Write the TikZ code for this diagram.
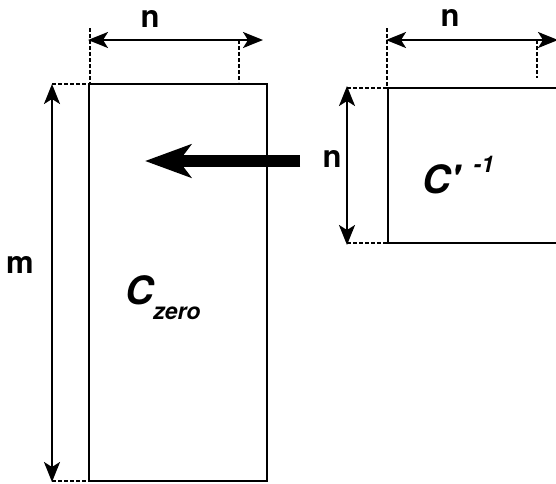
\documentclass[tikz,border=0pt]{standalone}
\usepackage{fontspec}
\setmainfont{TeX Gyre Heros}
\usetikzlibrary{arrows.meta}
\tikzset{
  box/.style={draw, line width=2.3pt},
  dimline/.style={line width=2.1pt, {Stealth[length=20pt,width=16pt,inset=5pt]}-{Stealth[length=20pt,width=16pt,inset=5pt]}},
  guide/.style={line width=1.7pt, dash pattern=on 3.5pt off 2.5pt},
  lbl/.style={font=\fontsize{31}{31}\selectfont\bfseries, inner sep=0pt, anchor=base},
  bigarrow/.style={line width=12.5pt, -{Stealth[length=46pt,width=33pt,inset=12pt]}}
}
\begin{document}
\begin{tikzpicture}[x=1pt,y=-1pt]
\clip (0,0) rectangle (556,483);
% rectangles
\draw[box] (89,84) rectangle (267,481);
\draw[box] (388,88) rectangle (600,243);
% named points
\coordinate (a1) at (88,40);  \coordinate (a2) at (263,40);
\coordinate (b1) at (52,84);  \coordinate (b2) at (52,482);
\coordinate (c1) at (386,40); \coordinate (c2) at (558,40);
\coordinate (d1) at (347,86); \coordinate (d2) at (347,245);
\coordinate (s) at (300,161); \coordinate (t) at (145,161);
% guides
\draw[guide] (90,28) -- (90,84);
\draw[guide] (239,40) -- (239,82);
\draw[guide] (52,84) -- (89,84);
\draw[guide] (52,481) -- (89,481);
\draw[guide] (387,28) -- (387,88);
\draw[guide] (537,40) -- (537,78);
\draw[guide] (347,88) -- (388,88);
\draw[guide] (347,243) -- (388,243);
% dimension arrows
\draw[dimline] (a1) -- (a2);
\draw[dimline] (b1) -- (b2);
\draw[dimline] (c1) -- (c2);
\draw[dimline] (d1) -- (d2);
% big arrow
\draw[bigarrow] (s) -- (t);
% labels
\node[lbl] (n1) at (150,27) {n};
\node[lbl] (n2) at (450,26) {n};
\node[lbl] (n3) at (332,167) {n};
\node[lbl] (m) at (20,273) {m};
\node[inner sep=0pt, anchor=base west, font=\fontsize{39}{39}\selectfont\bfseries\itshape] (cz) at (125,304) {C\raisebox{-15pt}{\fontsize{23}{23}\selectfont zero}};
\node[inner sep=0pt, anchor=base west, font=\fontsize{39}{39}\selectfont\bfseries\itshape] (ci) at (422,193) {C\textquotesingle\hspace{14pt}\raisebox{21pt}{\fontsize{23}{23}\selectfont -1}};
\end{tikzpicture}
\end{document}
